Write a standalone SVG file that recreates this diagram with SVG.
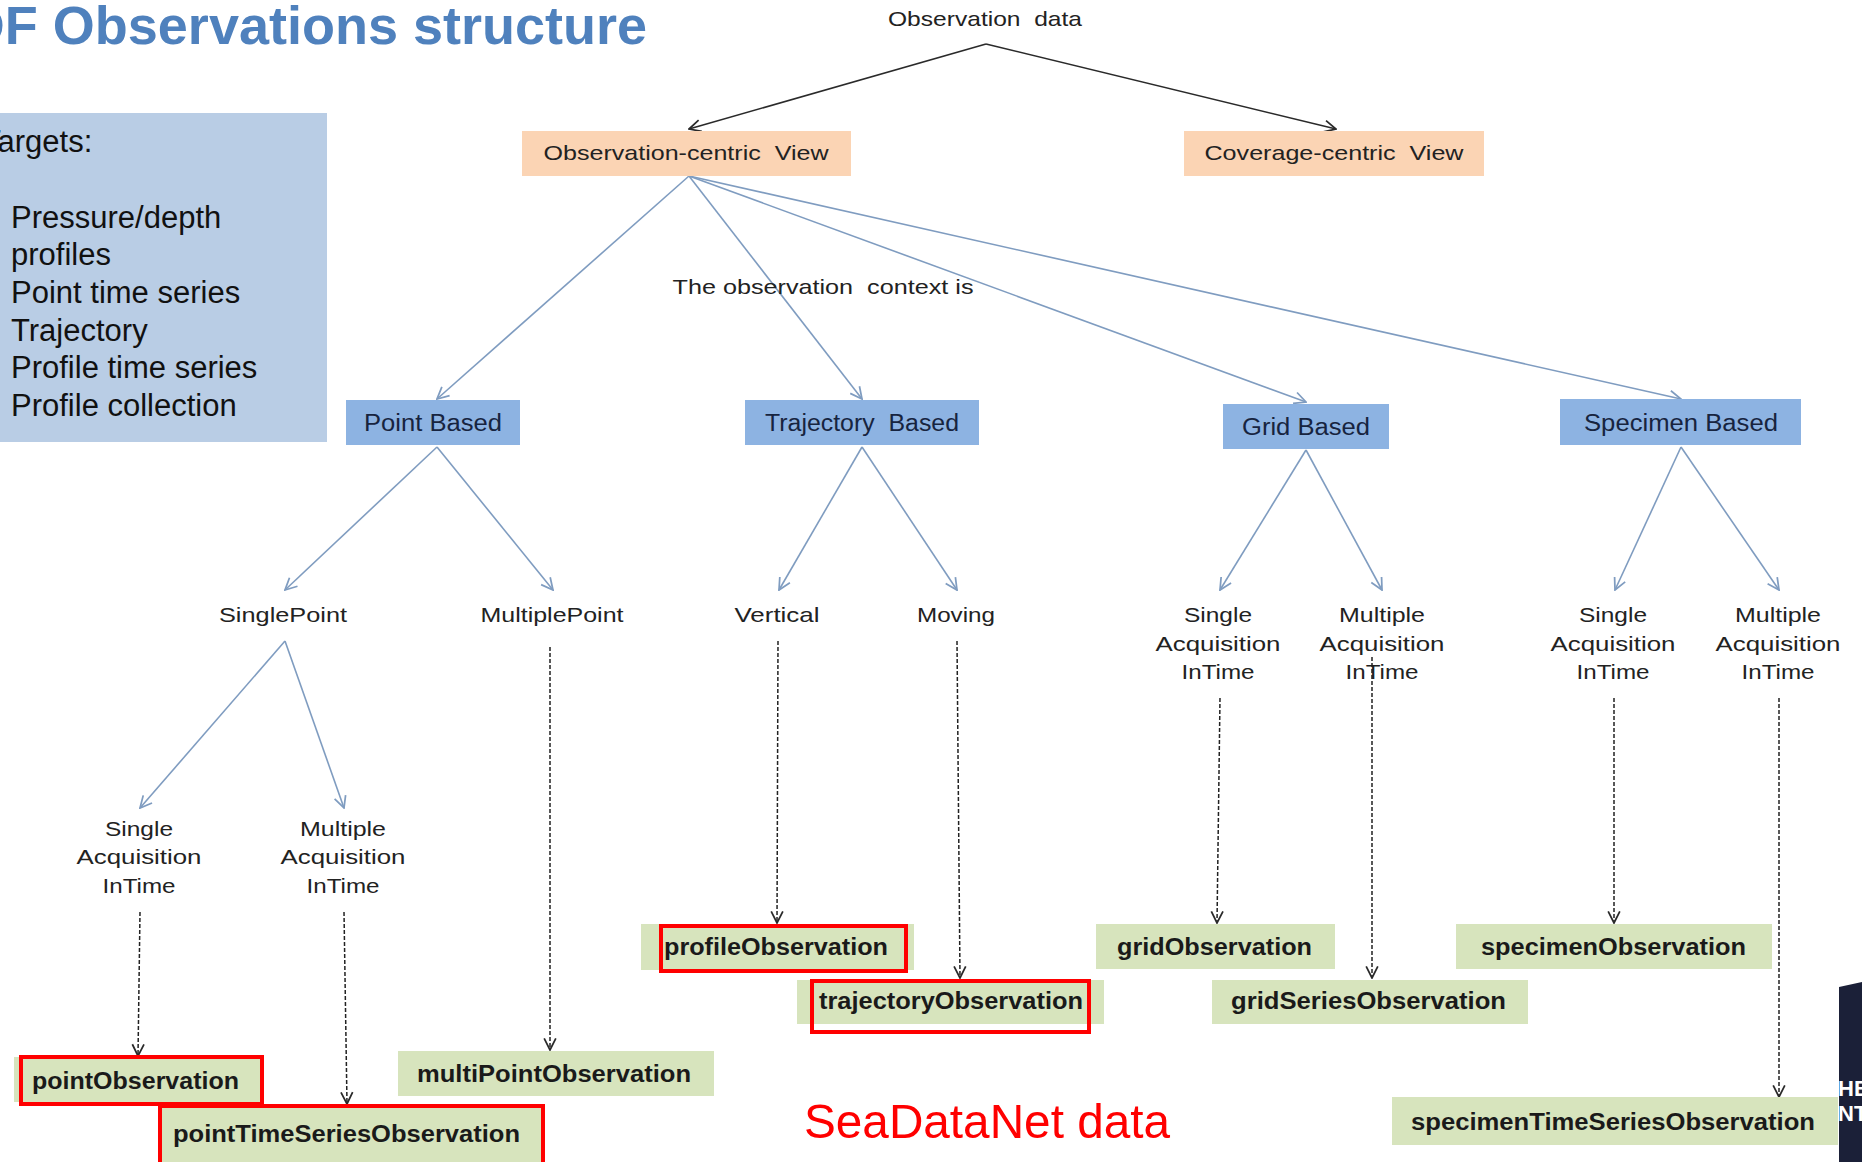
<svg xmlns="http://www.w3.org/2000/svg" width="1862" height="1162" viewBox="0 0 1862 1162">
  <style>
    .title { font-family: "Liberation Sans", Arial, sans-serif; font-weight: bold; font-size: 54px; fill: #4f81bd; }
    .side { font-family: "Liberation Sans", Arial, sans-serif; font-size: 31px; fill: #111; }
    .lbl { font-family: "Liberation Sans", Arial, sans-serif; font-size: 21px; fill: #222; text-anchor: middle; }
    .view { fill: #fbd4b4; }
    .ctx { fill: #8db3e2; }
    .ctxt { font-family: "Liberation Sans", Arial, sans-serif; font-size: 23px; fill: #17243f; text-anchor: middle; }
    .obs { fill: #d7e4bd; }
    .obst { font-family: "Liberation Sans", Arial, sans-serif; font-weight: bold; font-size: 23px; fill: #1a1a1a; }
    .hl { fill: none; stroke: #ff0000; stroke-width: 4; }
    .blk { stroke: #2a2a2a; stroke-width: 1.6; fill: none; marker-end: url(#arrBlack); }
    .blu { stroke: #7f9cc0; stroke-width: 1.6; fill: none; marker-end: url(#arrBlue); }
    .dsh { stroke: #222; stroke-width: 1.5; fill: none; stroke-dasharray: 4 2; marker-end: url(#arrBlack); }
  </style>
  <defs>
    <marker id="arrBlack" viewBox="0 0 12 12" refX="11" refY="6" markerWidth="14" markerHeight="14" markerUnits="userSpaceOnUse" orient="auto">
      <path d="M1,1 L11,6 L1,11" fill="none" stroke="#2a2a2a" stroke-width="1.5"/>
    </marker>
    <marker id="arrBlue" viewBox="0 0 12 12" refX="11" refY="6" markerWidth="14" markerHeight="14" markerUnits="userSpaceOnUse" orient="auto">
      <path d="M1,1 L11,6 L1,11" fill="none" stroke="#7f9cc0" stroke-width="1.5"/>
    </marker>
  </defs>

  <rect width="1862" height="1162" fill="#ffffff"/>

  <!-- heading -->
  <text class="title" x="647" y="44" text-anchor="end">DF Observations structure</text>

  <!-- targets panel -->
  <g id="targets">
    <rect x="0" y="113" width="327" height="329" fill="#b9cde5"/>
    <text class="side" x="-18" y="152">Targets:</text>
    <text class="side" x="11" y="228">Pressure/depth</text>
    <text class="side" x="11" y="265">profiles</text>
    <text class="side" x="11" y="303">Point time series</text>
    <text class="side" x="11" y="341">Trajectory</text>
    <text class="side" x="11" y="378">Profile time series</text>
    <text class="side" x="11" y="416">Profile collection</text>
  </g>

  <!-- connectors -->
  <g id="connectors">
    <line class="blk" x1="986" y1="44" x2="689" y2="129"/>
    <line class="blk" x1="986" y1="44" x2="1336" y2="129"/>

    <line class="blu" x1="689" y1="176" x2="437" y2="399"/>
    <line class="blu" x1="689" y1="176" x2="862" y2="399"/>
    <line class="blu" x1="689" y1="176" x2="1306" y2="402"/>
    <line class="blu" x1="689" y1="176" x2="1681" y2="399"/>

    <line class="blu" x1="437" y1="447" x2="285" y2="590"/>
    <line class="blu" x1="437" y1="447" x2="553" y2="590"/>
    <line class="blu" x1="862" y1="447" x2="779" y2="590"/>
    <line class="blu" x1="862" y1="447" x2="957" y2="590"/>
    <line class="blu" x1="1306" y1="450" x2="1220" y2="590"/>
    <line class="blu" x1="1306" y1="450" x2="1382" y2="590"/>
    <line class="blu" x1="1681" y1="447" x2="1615" y2="590"/>
    <line class="blu" x1="1681" y1="447" x2="1779" y2="590"/>

    <line class="blu" x1="285" y1="641" x2="140" y2="808"/>
    <line class="blu" x1="285" y1="641" x2="344" y2="808"/>

    <line class="dsh" x1="140" y1="912" x2="138" y2="1056"/>
    <line class="dsh" x1="344" y1="912" x2="347" y2="1104"/>
    <line class="dsh" x1="550" y1="647" x2="550" y2="1050"/>
    <line class="dsh" x1="778" y1="641" x2="777" y2="923"/>
    <line class="dsh" x1="957" y1="641" x2="960" y2="978"/>
    <line class="dsh" x1="1220" y1="698" x2="1217" y2="923"/>
    <line class="dsh" x1="1372" y1="657" x2="1372" y2="978"/>
    <line class="dsh" x1="1614" y1="698" x2="1614" y2="923"/>
    <line class="dsh" x1="1779" y1="698" x2="1779" y2="1097"/>
  </g>

  <!-- root and views -->
  <g id="observation-data">
    <text class="lbl" x="985" y="26" textLength="194" lengthAdjust="spacingAndGlyphs" xml:space="preserve">Observation  data</text>
  </g>
  <g id="observation-centric">
    <rect class="view" x="522" y="131" width="329" height="45"/>
    <text class="lbl" x="686" y="160" textLength="285" lengthAdjust="spacingAndGlyphs" xml:space="preserve">Observation-centric  View</text>
  </g>
  <g id="coverage-centric">
    <rect class="view" x="1184" y="131" width="300" height="45"/>
    <text class="lbl" x="1334" y="160" textLength="259" lengthAdjust="spacingAndGlyphs" xml:space="preserve">Coverage-centric  View</text>
  </g>
  <g id="context-note">
    <text class="lbl" x="823" y="294" textLength="301" lengthAdjust="spacingAndGlyphs" xml:space="preserve">The observation  context is</text>
  </g>

  <!-- context boxes -->
  <g id="point-based">
    <rect class="ctx" x="346" y="400" width="174" height="45"/>
    <text class="ctxt" x="433" y="431" textLength="138" lengthAdjust="spacingAndGlyphs">Point Based</text>
  </g>
  <g id="trajectory-based">
    <rect class="ctx" x="745" y="400" width="234" height="45"/>
    <text class="ctxt" x="862" y="431" textLength="194" lengthAdjust="spacingAndGlyphs" xml:space="preserve">Trajectory  Based</text>
  </g>
  <g id="grid-based">
    <rect class="ctx" x="1223" y="404" width="166" height="45"/>
    <text class="ctxt" x="1306" y="435" textLength="128" lengthAdjust="spacingAndGlyphs">Grid Based</text>
  </g>
  <g id="specimen-based">
    <rect class="ctx" x="1560" y="399" width="241" height="46"/>
    <text class="ctxt" x="1681" y="431" textLength="194" lengthAdjust="spacingAndGlyphs">Specimen Based</text>
  </g>

  <!-- sub-categories -->
  <g id="single-point"><text class="lbl" x="283" y="622" textLength="128" lengthAdjust="spacingAndGlyphs">SinglePoint</text></g>
  <g id="multiple-point"><text class="lbl" x="552" y="622" textLength="143" lengthAdjust="spacingAndGlyphs">MultiplePoint</text></g>
  <g id="vertical"><text class="lbl" x="777" y="622" textLength="85" lengthAdjust="spacingAndGlyphs">Vertical</text></g>
  <g id="moving"><text class="lbl" x="956" y="622" textLength="78" lengthAdjust="spacingAndGlyphs">Moving</text></g>

  <g id="grid-single">
    <text class="lbl" x="1218" y="622" textLength="68" lengthAdjust="spacingAndGlyphs">Single</text>
    <text class="lbl" x="1218" y="651" textLength="125" lengthAdjust="spacingAndGlyphs">Acquisition</text>
    <text class="lbl" x="1218" y="679" textLength="73" lengthAdjust="spacingAndGlyphs">InTime</text>
  </g>
  <g id="grid-multiple">
    <text class="lbl" x="1382" y="622" textLength="86" lengthAdjust="spacingAndGlyphs">Multiple</text>
    <text class="lbl" x="1382" y="651" textLength="125" lengthAdjust="spacingAndGlyphs">Acquisition</text>
    <text class="lbl" x="1382" y="679" textLength="73" lengthAdjust="spacingAndGlyphs">InTime</text>
  </g>
  <g id="specimen-single">
    <text class="lbl" x="1613" y="622" textLength="68" lengthAdjust="spacingAndGlyphs">Single</text>
    <text class="lbl" x="1613" y="651" textLength="125" lengthAdjust="spacingAndGlyphs">Acquisition</text>
    <text class="lbl" x="1613" y="679" textLength="73" lengthAdjust="spacingAndGlyphs">InTime</text>
  </g>
  <g id="specimen-multiple">
    <text class="lbl" x="1778" y="622" textLength="86" lengthAdjust="spacingAndGlyphs">Multiple</text>
    <text class="lbl" x="1778" y="651" textLength="125" lengthAdjust="spacingAndGlyphs">Acquisition</text>
    <text class="lbl" x="1778" y="679" textLength="73" lengthAdjust="spacingAndGlyphs">InTime</text>
  </g>
  <g id="point-single">
    <text class="lbl" x="139" y="836" textLength="68" lengthAdjust="spacingAndGlyphs">Single</text>
    <text class="lbl" x="139" y="864" textLength="125" lengthAdjust="spacingAndGlyphs">Acquisition</text>
    <text class="lbl" x="139" y="893" textLength="73" lengthAdjust="spacingAndGlyphs">InTime</text>
  </g>
  <g id="point-multiple">
    <text class="lbl" x="343" y="836" textLength="86" lengthAdjust="spacingAndGlyphs">Multiple</text>
    <text class="lbl" x="343" y="864" textLength="125" lengthAdjust="spacingAndGlyphs">Acquisition</text>
    <text class="lbl" x="343" y="893" textLength="73" lengthAdjust="spacingAndGlyphs">InTime</text>
  </g>

  <!-- observation types -->
  <g id="point-observation">
    <rect class="obs" x="14" y="1057" width="247" height="45"/>
    <text class="obst" x="32" y="1089" textLength="207" lengthAdjust="spacingAndGlyphs">pointObservation</text>
    <rect class="hl" x="21" y="1057" width="241" height="47"/>
  </g>
  <g id="point-time-series-observation">
    <rect class="obs" x="160" y="1107" width="383" height="60"/>
    <text class="obst" x="173" y="1142" textLength="347" lengthAdjust="spacingAndGlyphs">pointTimeSeriesObservation</text>
    <rect class="hl" x="160" y="1106" width="383" height="70"/>
  </g>
  <g id="multi-point-observation">
    <rect class="obs" x="398" y="1051" width="316" height="45"/>
    <text class="obst" x="417" y="1082" textLength="274" lengthAdjust="spacingAndGlyphs">multiPointObservation</text>
  </g>
  <g id="profile-observation">
    <rect class="obs" x="641" y="924" width="273" height="46"/>
    <text class="obst" x="664" y="955" textLength="224" lengthAdjust="spacingAndGlyphs">profileObservation</text>
    <rect class="hl" x="661" y="926" width="245" height="45"/>
  </g>
  <g id="trajectory-observation">
    <rect class="obs" x="797" y="980" width="307" height="44"/>
    <text class="obst" x="819" y="1009" textLength="264" lengthAdjust="spacingAndGlyphs">trajectoryObservation</text>
    <rect class="hl" x="812" y="981" width="277" height="51"/>
  </g>
  <g id="grid-observation">
    <rect class="obs" x="1096" y="924" width="239" height="45"/>
    <text class="obst" x="1117" y="955" textLength="195" lengthAdjust="spacingAndGlyphs">gridObservation</text>
  </g>
  <g id="grid-series-observation">
    <rect class="obs" x="1212" y="980" width="316" height="44"/>
    <text class="obst" x="1231" y="1009" textLength="275" lengthAdjust="spacingAndGlyphs">gridSeriesObservation</text>
  </g>
  <g id="specimen-observation">
    <rect class="obs" x="1456" y="924" width="316" height="45"/>
    <text class="obst" x="1481" y="955" textLength="265" lengthAdjust="spacingAndGlyphs">specimenObservation</text>
  </g>
  <g id="specimen-time-series-observation">
    <rect class="obs" x="1392" y="1097" width="446" height="48"/>
    <text class="obst" x="1411" y="1130" textLength="404" lengthAdjust="spacingAndGlyphs">specimenTimeSeriesObservation</text>
  </g>

  <!-- note -->
  <text x="804" y="1138" font-family="Liberation Sans, Arial, sans-serif" font-size="49" fill="#ff0000" textLength="366" lengthAdjust="spacingAndGlyphs">SeaDataNet data</text>

  <!-- corner logo strip -->
  <g id="corner-logo">
    <path d="M1839,987 L1862,982 L1862,1162 L1839,1162 Z" fill="#1b2038"/>
    <text x="1838" y="1096" font-family="Liberation Sans, Arial, sans-serif" font-weight="bold" font-size="22" fill="#ffffff">HE</text>
    <text x="1838" y="1121" font-family="Liberation Sans, Arial, sans-serif" font-weight="bold" font-size="22" fill="#ffffff">NT</text>
  </g>
</svg>
